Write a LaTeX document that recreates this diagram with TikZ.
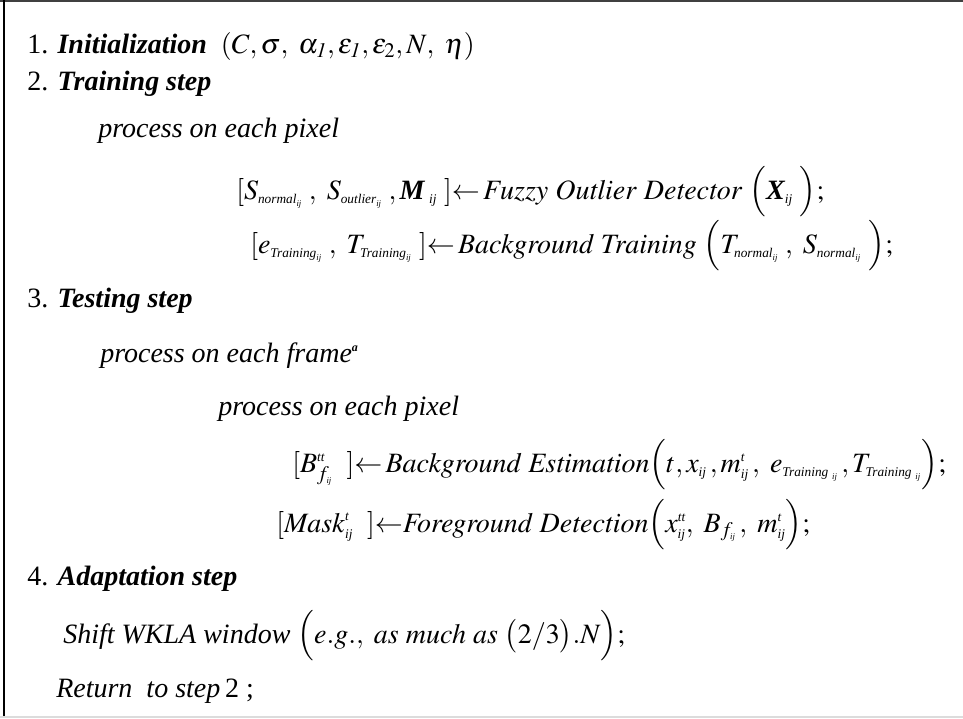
\documentclass[tikz,border=0pt]{standalone}
\usepackage{mathptmx}
\usepackage[no-math]{fontspec}
\setmainfont{Liberation Serif}
\usepackage{mathtools}

\newcommand{\bi}[1]{\textbf{\textit{#1}}}
\newcommand{\bm}[1]{\mbox{\bfseries\itshape #1}}
\newcommand{\wsub}[1]{\mbox{\fontsize{10}{10}\selectfont\itshape #1}}
\newcommand{\ijsub}{\mbox{\fontsize{6.5}{6.5}\selectfont\itshape ij}}

\begin{document}
\begin{tikzpicture}[x=0.75pt,y=0.75pt,yscale=-1,xscale=1]
\tikzset{txt/.style={anchor=base west,inner sep=0pt,font=\fontsize{21}{25}\selectfont}}
\useasboundingbox (0,0) rectangle (963,718);

%Straight Lines [frame top]
\draw [color={rgb, 255:red, 64; green, 64; blue, 64 }  ,line width=1.5]   (0,1) -- (963,1) ;
%Straight Lines [frame left]
\draw [color={rgb, 255:red, 0; green, 0; blue, 0 }  ,line width=1.5]   (4,0) -- (4,717) ;
%Straight Lines [frame bottom]
\draw [color={rgb, 255:red, 220; green, 220; blue, 220 }  ,line width=1.5]   (0,717) -- (963,717) ;

% Text Node
\node [txt] (init) at (27,53) {1. \bi{Initialization} \ $(C, \sigma,\ \alpha_{\mathit{1}}, \varepsilon_{\mathit{1}}, \varepsilon_{2}, N,\ \eta)$};
% Text Node
\node [txt] (train) at (27,90) {2. \bi{Training step}};
% Text Node
\node [txt] (trpix) at (98,137) {\textit{process on each pixel}};
% Text Node
\node [txt] (fod) at (236,199) {$[S_{\wsub{normal}_{\ijsub}}\;,\ S_{\wsub{outlier}_{\ijsub}}\;,\bm{M}_{\;\wsub{ij}}\ ]{\leftarrow}\,\mathit{Fuzzy\ Outlier\ Detector}\ \Big(\bm{X}_{\wsub{ij}}\ \Big);$};
% Text Node
\node [txt] (bgtrain) at (250,253) {$[e_{\wsub{Training}_{\ijsub}}\;,\ T_{\wsub{Training}_{\ijsub}}\ ]{\leftarrow}\,\mathit{Background\ Training}\ \Big(T_{\wsub{normal}_{\ijsub}}\;,\ S_{\wsub{normal}_{\ijsub}}\ \Big);$};
% Text Node
\node [txt] (test) at (27,307) {3. \bi{Testing step}};
% Text Node
\node [txt] (tsframe) at (100,362) {\textit{process on each frame}\textsuperscript{\fontsize{9}{9}\selectfont\bfseries\itshape a}};
% Text Node
\node [txt] (tspix) at (218,415) {\textit{process on each pixel}};
% Text Node
\node [txt] (bgest) at (292,472) {$[B^{\wsub{tt}}_{f_{\ijsub}}\ \ ]{\leftarrow}\,\mathit{Background\ Estimation}\Big(t, x_{\wsub{ij}}\,, m^{\wsub{t}}_{\wsub{ij}}\,,\ e_{\wsub{Training}_{\;\ijsub}}\,, T_{\wsub{Training}_{\;\ijsub}}\Big);$};
% Text Node
\node [txt] (fgdet) at (276,532) {$[\mathit{Mask}^{\wsub{t}}_{\wsub{ij}}\ \ ]{\leftarrow}\mathit{Foreground\ Detection}\Big(x^{\wsub{tt}}_{\wsub{ij}},\ B_{f_{\ijsub}}\,,\ m^{\wsub{t}}_{\wsub{ij}}\Big);$};
% Text Node
\node [txt] (adapt) at (27,585) {4. \bi{Adaptation step}};
% Text Node
\node [txt] (shift) at (63,643) {\textit{Shift WKLA window} $\Big(\mathit{e.g.,\ as\ much\ as}\ \big(2/3\big).N\Big);$};
% Text Node
\node [txt] (ret) at (56,697) {\textit{Return \ to step}\,2 ;};

\end{tikzpicture}
\end{document}
